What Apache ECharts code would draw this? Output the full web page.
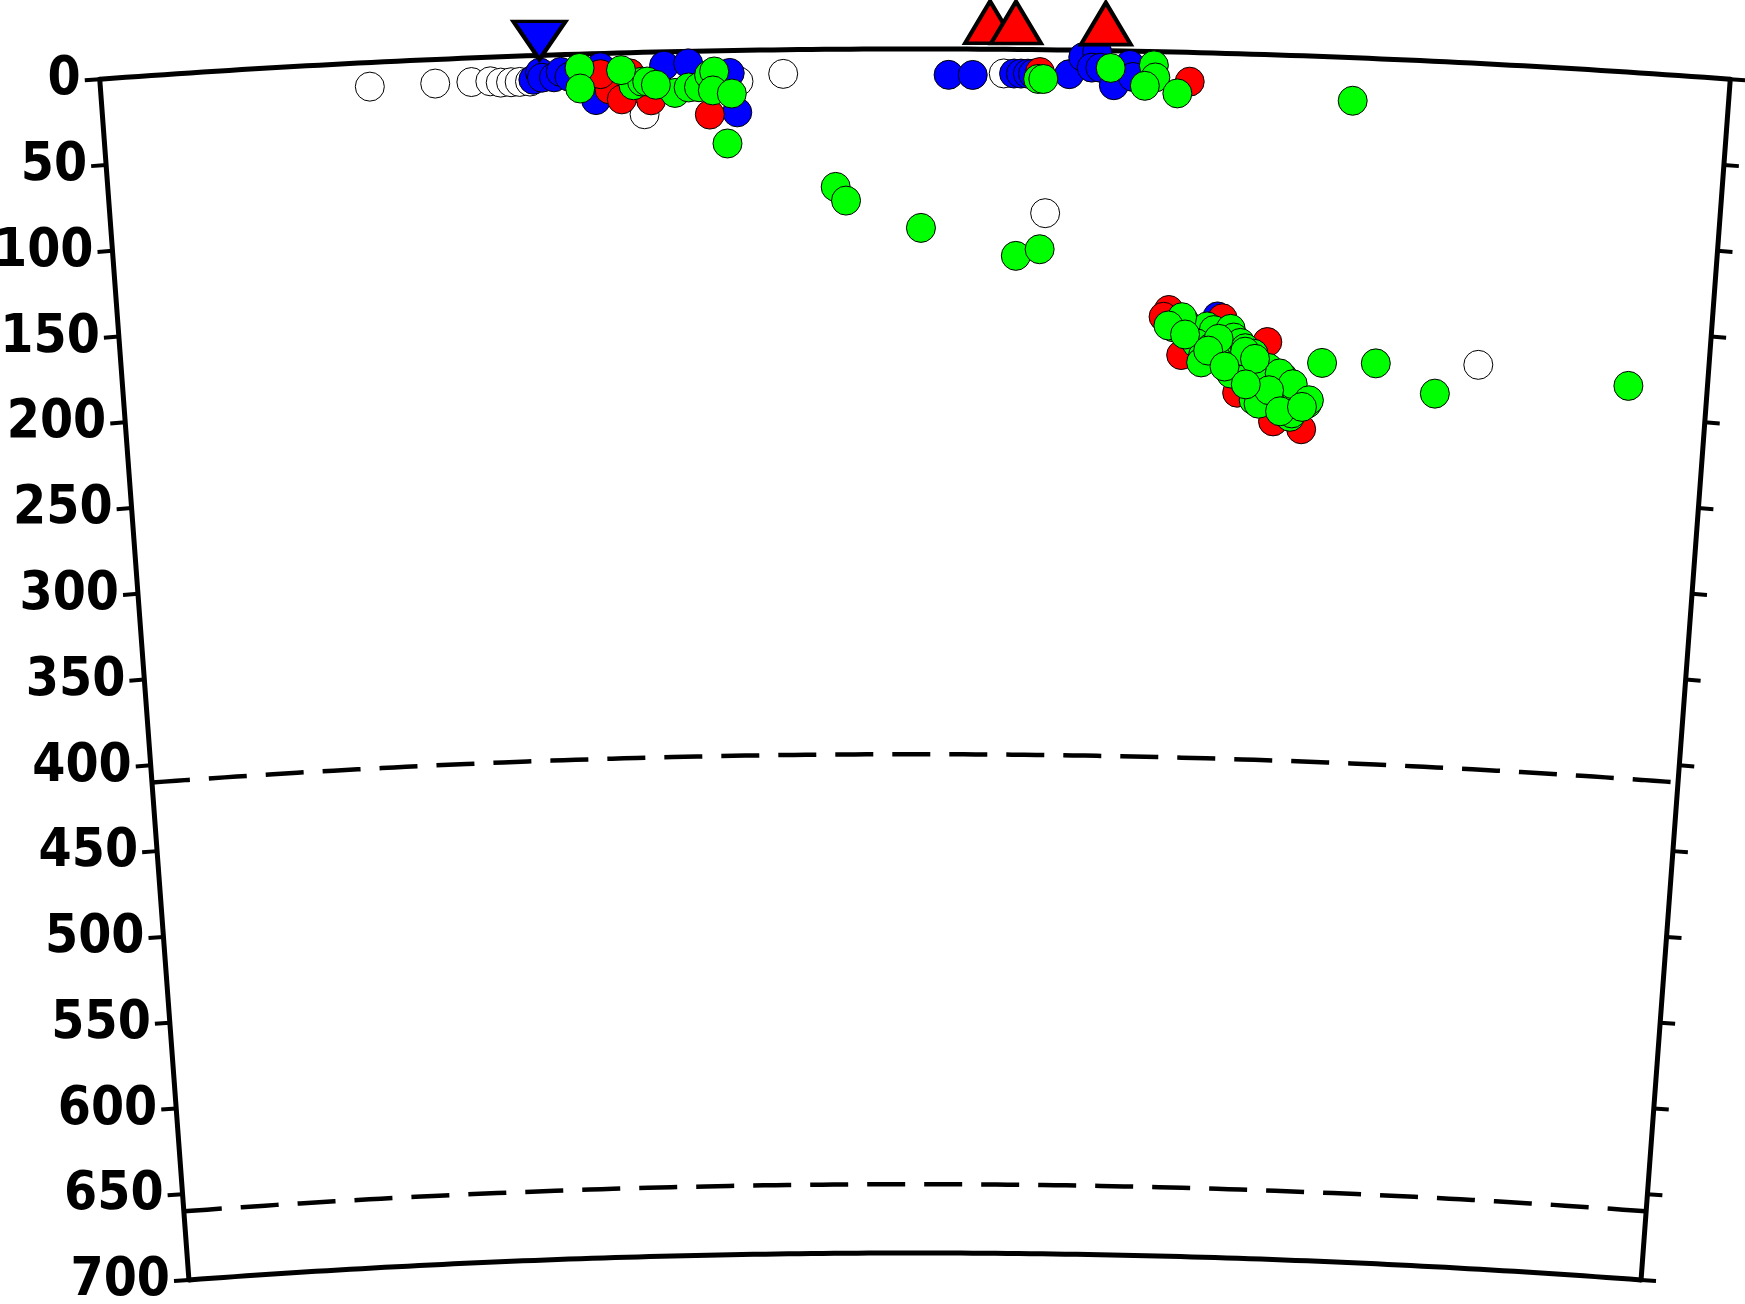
<!DOCTYPE html>
<html><head><meta charset="utf-8">
<script src="https://cdn.jsdelivr.net/npm/echarts@6/dist/echarts.min.js"></script>
<style>html,body{margin:0;padding:0;background:#fff}#c{width:1745px;height:1304px}</style>
</head><body><div id="c"></div>
<script>
// ---- data (distance along profile in km, depth in km) ----
const depthTicks = [0, 50, 100, 150, 200, 250, 300, 350, 400, 450, 500, 550, 600, 650, 700];
const profileLength = 945;
const discontinuities = [410, 660];

const openDist  = [156, 194, 215, 226, 232, 238, 243, 249, 315, 370, 396, 524, 549, 808];
const openDepth = [14, 14, 14, 14, 15, 15, 15, 15, 36, 18, 14, 14, 95, 175];

const blueDist  = [251, 255, 256, 263, 267, 272, 287, 290, 327, 341, 365, 369,
                   492, 506, 530, 534, 538, 541, 562, 570, 578, 575, 580, 589, 588, 597, 599, 652];
const blueDepth = [14, 10, 13, 13, 10, 13, 27, 8, 8, 7, 13, 36,
                   15, 15, 14, 14, 14, 14, 14, 4, 1, 10, 10, 15, 20, 8, 15, 153];

const redDist  = [298, 295, 302, 307, 319, 353, 290, 545, 632, 623, 620, 655, 682, 631, 665, 687, 704];
const redDepth = [16, 21, 27, 12, 28, 37, 12, 13, 17, 150, 154, 154, 167, 176, 197, 213, 217];

const greenDist = [278, 278, 309, 314, 317, 333, 341, 347, 353, 356, 355, 366, 322, 302, 363,
  426, 432, 476, 532, 546,
  544, 547, 586, 611, 612, 606, 625, 727,
  626, 633, 635, 646, 650, 660, 662, 640, 644, 649, 654, 666, 669, 674, 665, 661, 671, 677, 683, 692, 697, 684, 675, 707, 697,
  631, 623, 643, 653, 669, 677, 690, 698, 708, 698, 678, 684, 675,
  633, 647, 657, 670, 691, 704,
  715, 747, 783, 898];
const greenDepth = [8, 20, 19, 17, 17, 24, 21, 21, 14, 12, 23, 25, 19, 10, 54,
  80, 88, 104, 120, 116,
  17, 17, 10, 8, 15, 20, 24, 25,
  160, 157, 163, 159, 161, 160, 165, 169, 176, 171, 174, 168, 171, 174, 180, 186, 188, 193, 182, 187, 196, 198, 201, 202, 210,
  154, 159, 180, 166, 173, 188, 185, 191, 200, 208, 203, 195, 177,
  164, 173, 182, 192, 207, 204,
  178, 177, 193, 182];

const volcanoDist = [516, 531, 583];
const trenchDist = [255];

// ---- build ----
const zip = (d, z) => d.map((v, i) => [z[i], v]);   // polar: [radius(depth), angle(distance)]
const frameDist = [];
for (let i = 0; i <= 126; i++) frameDist.push(profileLength * i / 126);
const levelLine = dep => frameDist.map(d => [dep, d]);

const CX = 915, CY = 11050, R_OUT = 11001, R_IN = 9797;
const PX_PER_KM = (R_OUT - R_IN) / 700;
const PAD = 10; // km of extra room for the frame polar (so the border lines are not clipped)
const A_LEFT = 94.25, A_RIGHT = 85.75;

const hiddenAngle = {
  axisLine: {show: false}, axisTick: {show: false}, axisLabel: {show: false},
  splitLine: {show: false}, splitArea: {show: false}
};
const circle = (name, data, color, z) => ({
  type: 'scatter', name, coordinateSystem: 'polar', polarIndex: 0, data,
  symbol: 'circle', symbolSize: 29, clip: false, z,
  itemStyle: {color, borderColor: '#000', borderWidth: 1, opacity: 1}
});
const LABEL_FONT = "'DejaVu Sans Condensed', 'DejaVu Sans', sans-serif";

const chart = echarts.init(document.getElementById('c'), null, {renderer: 'canvas'});
chart.setOption({
  animation: false,
  backgroundColor: '#fff',
  polar: [
    {center: [CX, CY], radius: [R_IN, R_OUT]},
    {center: [CX, CY], radius: [R_IN, R_OUT]},
    {center: [CX, CY], radius: [R_IN - PAD * PX_PER_KM, R_OUT + PAD * PX_PER_KM]}
  ],
  angleAxis: [
    Object.assign({polarIndex: 0, type: 'value', min: 0, max: profileLength,
      startAngle: A_LEFT, endAngle: A_RIGHT, clockwise: true}, hiddenAngle),
    Object.assign({polarIndex: 1, type: 'value', min: 0, max: profileLength,
      startAngle: A_RIGHT, endAngle: A_LEFT, clockwise: false}, hiddenAngle),
    Object.assign({polarIndex: 2, type: 'value', min: 0, max: profileLength,
      startAngle: A_LEFT, endAngle: A_RIGHT, clockwise: true}, hiddenAngle)
  ],
  radiusAxis: [
    {polarIndex: 0, type: 'value', min: depthTicks[0], max: depthTicks[depthTicks.length - 1],
     interval: 50, inverse: true, z: 10,
     axisLine: {lineStyle: {color: '#000', width: 5}},
     axisTick: {length: 15, lineStyle: {color: '#000', width: 4}},
     axisLabel: {margin: 19, fontFamily: LABEL_FONT, fontWeight: 'bold', fontSize: 53, color: '#000',
                 formatter: v => String(v)},
     splitLine: {show: false}, splitArea: {show: false}},
    {polarIndex: 1, type: 'value', min: depthTicks[0], max: depthTicks[depthTicks.length - 1],
     interval: 50, inverse: true, z: 10,
     axisLine: {lineStyle: {color: '#000', width: 5}},
     axisTick: {length: -15, lineStyle: {color: '#000', width: 4}},
     axisLabel: {show: false},
     splitLine: {show: false}, splitArea: {show: false}},
    {polarIndex: 2, type: 'value', min: depthTicks[0] - PAD, max: depthTicks[depthTicks.length - 1] + PAD,
     inverse: true, show: false,
     axisLine: {show: false}, axisTick: {show: false}, axisLabel: {show: false},
     splitLine: {show: false}, splitArea: {show: false}}
  ],
  series: [
    {type: 'line', coordinateSystem: 'polar', polarIndex: 2, data: levelLine(0), clip: false,
     showSymbol: false, silent: true, z: 1, lineStyle: {color: '#000', width: 5}},
    {type: 'line', coordinateSystem: 'polar', polarIndex: 2, data: levelLine(700), clip: false,
     showSymbol: false, silent: true, z: 1, lineStyle: {color: '#000', width: 5}},
    {type: 'line', coordinateSystem: 'polar', polarIndex: 0, data: levelLine(discontinuities[0]), clip: false,
     showSymbol: false, silent: true, z: 1, lineStyle: {color: '#000', width: 4.5, type: [38, 19]}},
    {type: 'line', coordinateSystem: 'polar', polarIndex: 0, data: levelLine(discontinuities[1]), clip: false,
     showSymbol: false, silent: true, z: 1, lineStyle: {color: '#000', width: 4.5, type: [38, 19]}},
    circle('open', zip(openDist, openDepth), '#ffffff', 2),
    circle('blue', zip(blueDist, blueDepth), '#0000ff', 3),
    circle('red', zip(redDist, redDepth), '#ff0000', 4),
    circle('green', zip(greenDist, greenDepth), '#00ff00', 5),
    {type: 'scatter', coordinateSystem: 'polar', polarIndex: 0, clip: false, z: 6,
     data: volcanoDist.map(d => [0, d]), symbol: 'triangle', symbolSize: [50, 42], symbolOffset: [0, -27],
     itemStyle: {color: '#ff0000', borderColor: '#000', borderWidth: 4, borderJoin: 'miter', opacity: 1}},
    {type: 'scatter', coordinateSystem: 'polar', polarIndex: 0, clip: false, z: 6,
     data: trenchDist.map(d => [0, d]), symbol: 'triangle', symbolRotate: 180, symbolSize: [52, 38], symbolOffset: [0, -15],
     itemStyle: {color: '#0000ff', borderColor: '#000', borderWidth: 4, borderJoin: 'miter', opacity: 1}}
  ]
});
</script>
</body></html>
